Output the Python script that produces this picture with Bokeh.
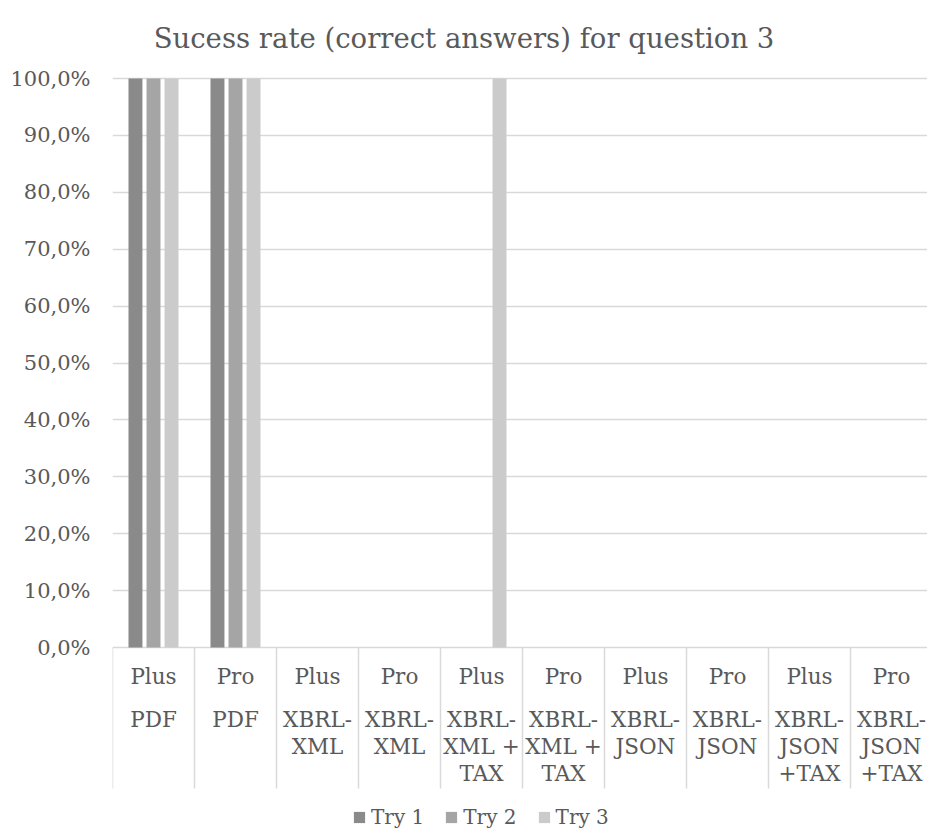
import numpy as np
from bokeh.plotting import figure
from bokeh.models import ColumnDataSource, Range1d, FixedTicker, Legend, LegendItem
from bokeh.transform import dodge
from bokeh.core.properties import value
from bokeh.embed import file_html
from bokeh.resources import INLINE

# ---- data -------------------------------------------------------------
models = ["Plus", "Pro", "Plus", "Pro", "Plus", "Pro", "Plus", "Pro", "Plus", "Pro"]
formats = ["PDF", "PDF", "XBRL-\nXML", "XBRL-\nXML", "XBRL-\nXML +\nTAX", "XBRL-\nXML +\nTAX",
           "XBRL-\nJSON", "XBRL-\nJSON", "XBRL-\nJSON\n+TAX", "XBRL-\nJSON\n+TAX"]
try_1 = [100, 100, 0, 0, 0, 0, 0, 0, 0, 0]
try_2 = [100, 100, 0, 0, 0, 0, 0, 0, 0, 0]
try_3 = [100, 100, 0, 0, 100, 0, 0, 0, 0, 0]
series_names = ["Try 1", "Try 2", "Try 3"]
y_ticks = [0, 10, 20, 30, 40, 50, 60, 70, 80, 90, 100]
y_tick_labels = ["0,0%", "10,0%", "20,0%", "30,0%", "40,0%", "50,0%",
                 "60,0%", "70,0%", "80,0%", "90,0%", "100,0%"]
title_text = "Sucess rate (correct answers) for question 3"

# ---- layout -----------------------------------------------------------
W, H = 927, 840
LEFT = 112            # frame left edge (px)
CAT_PX = 82           # width of one category cell (px)
Y0_PX, Y100_PX = 647, 78
PX_PER_UNIT = (Y0_PX - Y100_PX) / 100.0

FONT = "DejaVu Serif"
TEXT_COLOR = "#595959"
GRID_COLOR = "#d9d9d9"
COLORS = ["#8a8a8a", "#a5a5a5", "#cbcbcb"]


def px_to_y(py):
    return (Y0_PX - py) / PX_PER_UNIT


def px_to_x(px):
    return (px - LEFT) / CAT_PX


n = len(models)
x_range = Range1d(0, (W - LEFT) / CAT_PX)
y_range = Range1d(px_to_y(H), px_to_y(0))

p = figure(width=W, height=H, x_range=x_range, y_range=y_range,
           output_backend="svg", toolbar_location=None,
           min_border_left=LEFT, min_border_right=0, min_border_top=0, min_border_bottom=0,
           x_axis_location=None)
p.outline_line_color = None
p.background_fill_color = "white"
p.border_fill_color = "white"

# y axis (labels only) and horizontal gridlines
yaxis = p.yaxis[0]
yaxis.ticker = FixedTicker(ticks=y_ticks)
yaxis.major_label_overrides = {t: s for t, s in zip(y_ticks, y_tick_labels)}
yaxis.axis_line_color = None
yaxis.major_tick_line_color = None
yaxis.minor_tick_line_color = None
yaxis.major_tick_in = 0
yaxis.major_tick_out = 0
yaxis.major_label_standoff = 22
yaxis.major_label_text_font = FONT
yaxis.major_label_text_font_size = "21px"
yaxis.major_label_text_color = TEXT_COLOR

p.xgrid.visible = False
p.ygrid.ticker = FixedTicker(ticks=y_ticks)
p.ygrid.grid_line_color = GRID_COLOR
p.ygrid.grid_line_width = 1.5

# bars
src = ColumnDataSource(dict(pos=np.arange(n) + 0.5, t1=try_1, t2=try_2, t3=try_3))
offsets = [-0.22, 0.0, 0.22]
renderers = []
for field, off, col in zip(["t1", "t2", "t3"], offsets, COLORS):
    r = p.vbar(x=dodge("pos", off, range=p.x_range), top=field, bottom=0, width=0.17,
               source=src, fill_color=col, line_color=None)
    renderers.append(r)

# category cell separators below the baseline
bounds = np.arange(n + 1)
sep_bottom = px_to_y(788)
p.segment(x0=bounds, y0=0, x1=bounds, y1=sep_bottom, line_color=GRID_COLOR, line_width=1.5)

# two-level category labels
LINE_PX = 27
lx, ly, lt = [], [], []
for i, (m, f) in enumerate(zip(models, formats)):
    lx.append(i + 0.5); ly.append(px_to_y(676)); lt.append(m)
    for k, part in enumerate(f.split("\n")):
        lx.append(i + 0.5); ly.append(px_to_y(719 + k * LINE_PX)); lt.append(part)
p.text(x=lx, y=ly, text=lt, text_font=value(FONT), text_font_size="21.5px",
       text_color=TEXT_COLOR, text_align="center", text_baseline="middle")

# title
p.text(x=[px_to_x(W / 2)], y=[px_to_y(37)], text=[title_text], text_font=value(FONT),
       text_font_size="27.5px", text_color=TEXT_COLOR, text_align="center",
       text_baseline="middle")

# legend
legend = Legend(items=[LegendItem(label=s, renderers=[r]) for s, r in zip(series_names, renderers)],
                orientation="horizontal", location=(240, 11))
legend.glyph_width = 14
legend.glyph_height = 14
legend.label_text_font = FONT
legend.label_text_font_size = "20px"
legend.label_text_color = TEXT_COLOR
legend.label_standoff = 5
legend.spacing = 20
legend.padding = 0
legend.margin = 0
legend.border_line_color = None
legend.background_fill_alpha = 0
p.add_layout(legend)

open("out.html", "w").write(file_html(p, INLINE))
